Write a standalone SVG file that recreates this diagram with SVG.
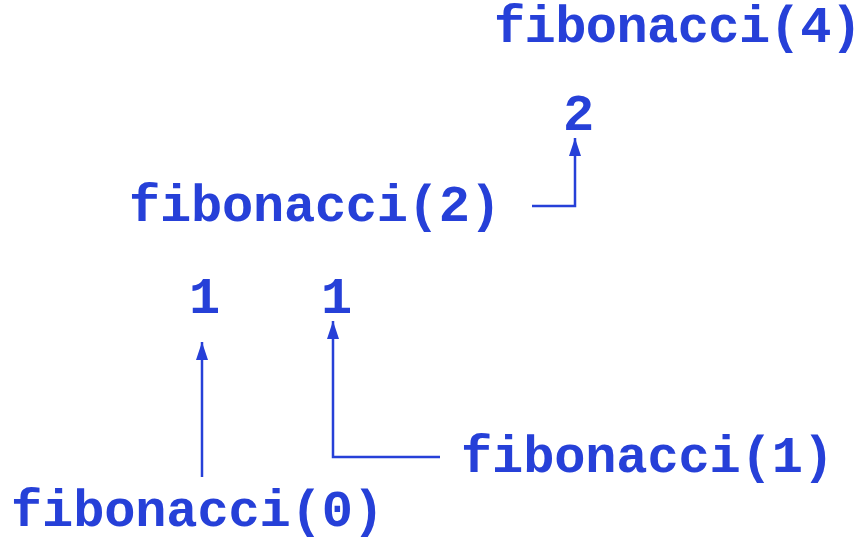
<svg xmlns="http://www.w3.org/2000/svg" width="866" height="542" viewBox="0 0 866 542">
  <style>
    .t { font-family: "Liberation Mono", "Courier New", monospace; font-weight: bold; font-size: 52px; fill: #2640d8; }
    .c { fill: none; stroke: #2640d8; stroke-width: 2.5; }
  </style>
  <defs>
    <marker id="arrow" markerWidth="18" markerHeight="12" refX="18" refY="6" orient="auto" markerUnits="userSpaceOnUse" viewBox="0 0 18 12">
      <path d="M0,0 L18,6 L0,12 Z" fill="#2640d8"/>
    </marker>
  </defs>
  <rect width="866" height="542" fill="#ffffff"/>

  <g id="fib4"><text class="t" x="494" y="42" textLength="368">fibonacci(4)</text></g>
  <g id="result2"><text class="t" x="563" y="130">2</text></g>
  <g id="fib2"><text class="t" x="129" y="221" textLength="372">fibonacci(2)</text></g>
  <g id="result1a"><text class="t" x="189" y="313">1</text></g>
  <g id="result1b"><text class="t" x="321" y="313">1</text></g>
  <g id="fib1"><text class="t" x="461" y="472" textLength="373">fibonacci(1)</text></g>
  <g id="fib0"><text class="t" x="11" y="526" textLength="373">fibonacci(0)</text></g>

  <g id="connectors">
    <path class="c" d="M532,206 H575 V138" marker-end="url(#arrow)"/>
    <path class="c" d="M202,477 V342" marker-end="url(#arrow)"/>
    <path class="c" d="M440,457 H333 V321" marker-end="url(#arrow)"/>
  </g>
</svg>
